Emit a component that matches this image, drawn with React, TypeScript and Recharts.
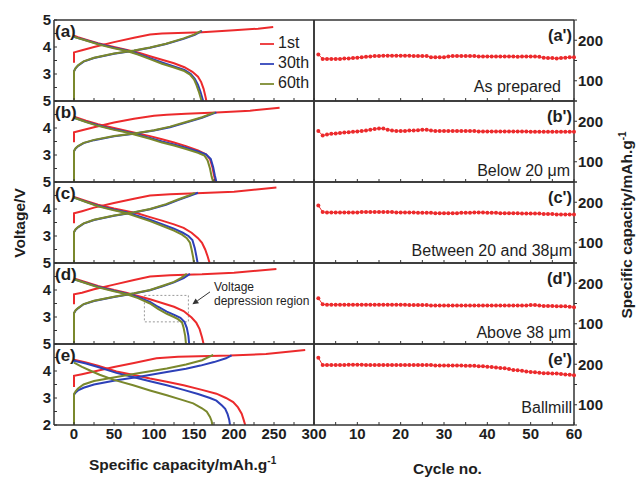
import React from 'react';
import { LineChart, Line, XAxis, YAxis, Legend, ReferenceArea, ReferenceLine } from 'recharts';

const FONT = '"Liberation Sans", Arial, Helvetica, sans-serif';
const RED = '#ec2a2c';
const BLUE = '#2d40b8';
const OLIVE = '#7a882c';
const INK = '#333333';
const TEXT = '#1e1e1e';

type Pt = [number, number];

// ---------- tick labels / categories ----------
const CAP_TICKS = [0, 25, 50, 75, 100, 125, 150, 175, 200, 225, 250, 275, 300];
const CAP_LABELS = [0, 50, 100, 150, 200, 250, 300];
const VOLT_TICKS = [2, 2.5, 3, 3.5, 4, 4.5, 5];
const CYCLE_TICKS = [0, 5, 10, 15, 20, 25, 30, 35, 40, 45, 50, 55, 60];
const CYCLE_LABELS = [10, 20, 30, 40, 50, 60];
const CAPR_TICKS = [50, 100, 150, 200, 250];
const CAPR_LABELS = [100, 200];
const SERIES_NAMES = ['1st', '30th', '60th'];
const LEFT_TAGS = ['(a)', '(b)', '(c)', '(d)', '(e)'];
const RIGHT_TAGS = ["(a')", "(b')", "(c')", "(d')", "(e')"];
const SAMPLE_NAMES = ['As prepared', 'Below 20 \u03bcm', 'Between 20 and 38\u03bcm', 'Above 38 \u03bcm', 'Ballmill'];
const CYCLES = Array.from({ length: 60 }, (_, i) => i + 1);

// ---------- panel (a) ----------
const A_RED_CHG: Pt[] = [[0,3.42],[0,3.8],[10,3.88],[25,4.0],[50,4.18],[75,4.34],[95,4.46],[110,4.5],[130,4.52],[160,4.55],[200,4.62],[230,4.68],[249,4.74]];
const A_BLUE_CHG: Pt[] = [[0,2.0],[0,3.1],[2,3.21],[5,3.31],[12,3.46],[25,3.59],[50,3.75],[75,3.86],[95,3.97],[115,4.11],[137,4.3],[151,4.45],[160,4.6]];
const A_OLIVE_CHG: Pt[] = [[0,2.0],[0,3.1],[2,3.22],[5,3.32],[12,3.47],[25,3.6],[50,3.76],[75,3.87],[95,3.98],[115,4.12],[137,4.32],[150,4.46],[159,4.6]];
const A_RED_DIS: Pt[] = [[0,4.42],[5,4.36],[15,4.27],[30,4.14],[50,4.0],[65,3.9],[80,3.8],[95,3.66],[110,3.53],[125,3.4],[138,3.25],[148,3.08],[155,2.9],[159,2.7],[162,2.45],[164,2.2],[165.5,2.0]];
const A_BLUE_DIS: Pt[] = [[0,4.38],[5,4.33],[15,4.25],[30,4.12],[50,3.97],[65,3.88],[80,3.75],[95,3.59],[110,3.43],[125,3.28],[138,3.15],[146,3.0],[151,2.82],[155,2.6],[158,2.35],[160,2.15],[161.5,2.0]];
const A_OLIVE_DIS: Pt[] = [[0,4.38],[5,4.33],[15,4.24],[30,4.1],[50,3.95],[65,3.86],[80,3.72],[95,3.55],[110,3.38],[125,3.24],[137,3.12],[145,2.98],[150,2.8],[153,2.6],[156,2.35],[158,2.15],[159.5,2.0]];

// ---------- panel (b) ----------
const B_RED_CHG: Pt[] = [[0,3.47],[0,3.84],[10,3.92],[25,4.03],[50,4.2],[75,4.34],[100,4.45],[116,4.49],[140,4.53],[178,4.57],[220,4.64],[257,4.75]];
const B_BLUE_CHG: Pt[] = [[0,2.0],[0,3.14],[2,3.24],[5,3.32],[12,3.44],[25,3.55],[50,3.69],[75,3.79],[100,3.91],[120,4.03],[140,4.2],[160,4.38],[178,4.58]];
const B_OLIVE_CHG: Pt[] = [[0,2.0],[0,3.15],[2,3.25],[5,3.33],[12,3.45],[25,3.56],[50,3.7],[75,3.8],[100,3.92],[120,4.05],[140,4.22],[160,4.4],[176,4.58]];
const B_RED_DIS: Pt[] = [[0,4.42],[15,4.27],[30,4.14],[50,4.0],[65,3.9],[80,3.8],[95,3.7],[110,3.58],[125,3.46],[140,3.33],[155,3.17],[165,3.03],[170,2.85],[173,2.55],[175,2.25],[177,2.0]];
const B_BLUE_DIS: Pt[] = [[0,4.38],[15,4.23],[30,4.1],[50,3.95],[65,3.86],[80,3.75],[95,3.63],[110,3.5],[125,3.39],[140,3.27],[155,3.13],[165,3.02],[171,2.85],[174,2.55],[176,2.25],[178,2.0]];
const B_OLIVE_DIS: Pt[] = [[0,4.38],[15,4.22],[30,4.08],[50,3.93],[65,3.84],[80,3.72],[95,3.6],[110,3.46],[125,3.35],[140,3.22],[155,3.08],[163,2.98],[167,2.8],[170,2.5],[172,2.2],[174,2.0]];

// ---------- panel (c) ----------
const C_RED_CHG: Pt[] = [[0,3.47],[0,3.84],[10,3.92],[25,4.05],[50,4.22],[75,4.38],[95,4.5],[120,4.55],[153,4.58],[200,4.64],[253,4.8]];
const C_BLUE_CHG: Pt[] = [[0,2.0],[0,3.14],[2,3.24],[5,3.32],[12,3.46],[25,3.59],[50,3.75],[75,3.87],[95,3.99],[115,4.16],[130,4.33],[145,4.49],[155,4.6]];
const C_OLIVE_CHG: Pt[] = [[0,2.0],[0,3.15],[2,3.25],[5,3.33],[12,3.47],[25,3.6],[50,3.76],[75,3.88],[95,4.0],[115,4.18],[130,4.35],[142,4.48],[151,4.6]];
const C_RED_DIS: Pt[] = [[0,4.45],[15,4.3],[30,4.16],[50,4.02],[65,3.93],[80,3.83],[95,3.7],[110,3.57],[125,3.43],[137,3.3],[147,3.12],[155,2.92],[160,2.75],[164,2.5],[167,2.25],[169.5,2.0]];
const C_BLUE_DIS: Pt[] = [[0,4.42],[15,4.27],[30,4.12],[50,3.97],[65,3.88],[80,3.74],[95,3.6],[110,3.44],[125,3.27],[136,3.12],[143,3.0],[148,2.85],[151,2.55],[153,2.25],[154.5,2.0]];
const C_OLIVE_DIS: Pt[] = [[0,4.42],[15,4.26],[30,4.1],[50,3.95],[65,3.85],[80,3.7],[95,3.55],[110,3.38],[125,3.2],[135,3.05],[141,2.92],[145,2.75],[147,2.5],[149,2.2],[150,2.0]];

// ---------- panel (d) ----------
const D_RED_CHG: Pt[] = [[0,3.47],[0,3.84],[10,3.9],[25,4.03],[50,4.2],[75,4.37],[95,4.5],[120,4.55],[160,4.58],[200,4.64],[253,4.78]];
const D_BLUE_CHG: Pt[] = [[0,2.0],[0,3.14],[2,3.24],[5,3.32],[12,3.47],[25,3.59],[50,3.74],[75,3.87],[95,3.99],[110,4.13],[125,4.28],[137,4.44],[145,4.6]];
const D_OLIVE_CHG: Pt[] = [[0,2.0],[0,3.15],[2,3.25],[5,3.33],[12,3.48],[25,3.6],[50,3.75],[75,3.88],[95,4.0],[110,4.15],[125,4.3],[134,4.45],[141,4.6]];
const D_RED_DIS: Pt[] = [[0,4.43],[15,4.29],[30,4.15],[50,4.0],[65,3.9],[80,3.78],[95,3.66],[110,3.52],[125,3.38],[137,3.22],[147,2.98],[153,2.78],[157,2.55],[160,2.25],[162,2.0]];
const D_BLUE_DIS: Pt[] = [[0,4.4],[15,4.26],[30,4.12],[50,3.97],[65,3.87],[80,3.73],[95,3.56],[105,3.38],[116,3.2],[126,3.07],[133,2.97],[138,2.82],[141,2.6],[143,2.3],[144,2.0]];
const D_OLIVE_DIS: Pt[] = [[0,4.4],[15,4.25],[30,4.1],[50,3.95],[65,3.85],[80,3.7],[95,3.5],[105,3.3],[116,3.12],[125,3.0],[130,2.92],[135,2.8],[137,2.6],[139,2.3],[140,2.0]];
const D_BOX = { x1: 88, x2: 143, y1: 2.82, y2: 3.8 };
const D_ARROW = [{ x: 170, y: 3.93 }, { x: 148, y: 3.47 }];

// ---------- panel (e) ----------
const E_RED_CHG: Pt[] = [[0,3.41],[0,3.82],[10,3.88],[25,3.98],[50,4.15],[75,4.3],[103,4.47],[130,4.53],[195,4.57],[240,4.63],[289,4.78]];
const E_BLUE_CHG: Pt[] = [[0,2.0],[0,3.12],[2,3.2],[5,3.28],[12,3.38],[25,3.5],[53,3.66],[80,3.78],[116,3.96],[140,4.08],[158,4.2],[175,4.33],[190,4.47],[197,4.58]];
const E_OLIVE_CHG: Pt[] = [[0,2.0],[0,3.15],[2,3.25],[5,3.35],[12,3.5],[25,3.63],[53,3.78],[80,3.92],[116,4.09],[140,4.24],[160,4.4],[174,4.6]];
const E_RED_DIS: Pt[] = [[0,4.42],[15,4.32],[30,4.2],[53,3.98],[75,3.85],[95,3.72],[116,3.6],[137,3.47],[160,3.3],[178,3.16],[190,3.0],[199,2.85],[205,2.65],[209.6,2.42],[212,2.2],[214,2.0]];
const E_BLUE_DIS: Pt[] = [[0,4.38],[15,4.28],[30,4.15],[53,3.93],[75,3.77],[95,3.62],[116,3.47],[137,3.3],[155,3.15],[170,3.0],[178,2.9],[185,2.72],[189,2.6],[192,2.4],[194,2.2],[195,2.0]];
const E_OLIVE_DIS: Pt[] = [[0,4.31],[10,4.15],[20,4.02],[32,3.86],[50,3.67],[74,3.47],[95,3.28],[116,3.1],[135,2.93],[149,2.8],[160,2.62],[166,2.49],[170,2.3],[172,2.15],[173,2.0]];

// ---------- cycling (a')..(e') : discharge capacity per cycle ----------
const A_CYC = [165,154,154,154,154,154,155,155,156,157,158,159,160,161,161,162,162,162,162,162,162,162,161,161,161,161,158,158,158,158,160,161,161,161,161,161,161,160,160,160,160,160,160,160,160,160,159,160,160,160,160,159,157,156,156,155,156,157,158,158];
const B_CYC = [176,165,167,169,170,171,172,173,174,175,176,177,179,181,182,182,179,177,176,176,176,177,177,178,179,179,177,176,176,176,176,176,176,176,176,176,176,175,175,175,175,175,175,175,175,175,175,175,175,174,174,174,174,174,174,174,174,174,174,174];
const C_CYC = [192,176,175,175,175,175,175,175,175,175,176,176,176,176,176,176,176,176,175,175,175,175,175,174,174,174,174,173,173,173,173,173,173,174,174,174,175,175,175,174,174,174,173,173,173,173,173,172,172,172,172,172,171,171,171,170,170,170,170,170];
const D_CYC = [163,148,147,147,147,147,147,147,147,147,147,147,147,147,147,147,147,147,147,147,147,146,146,146,146,146,145,145,145,145,145,145,145,145,145,145,145,145,145,145,145,145,145,145,145,145,145,145,145,146,146,145,144,144,144,143,143,143,142,141];
const E_CYC = [216,198,198,198,198,198,198,199,199,199,199,198,198,198,198,198,198,198,198,198,198,198,198,198,198,198,198,197,197,197,197,197,197,197,196,196,196,195,195,194,193,192,191,190,188,186,185,184,182,181,180,179,178,178,177,177,176,175,174,173];

type Curve = { color: string; name?: string; data: Pt[] };
const mk = (red: Pt[], redD: Pt[], blue: Pt[], blueD: Pt[], ol: Pt[], olD: Pt[]): Curve[] => [
  { color: RED, name: SERIES_NAMES[0], data: red },
  { color: RED, data: redD },
  { color: BLUE, name: SERIES_NAMES[1], data: blue },
  { color: BLUE, data: blueD },
  { color: OLIVE, name: SERIES_NAMES[2], data: ol },
  { color: OLIVE, data: olD },
];
const LEFT_CURVES: Curve[][] = [
  mk(A_RED_CHG, A_RED_DIS, A_BLUE_CHG, A_BLUE_DIS, A_OLIVE_CHG, A_OLIVE_DIS),
  mk(B_RED_CHG, B_RED_DIS, B_BLUE_CHG, B_BLUE_DIS, B_OLIVE_CHG, B_OLIVE_DIS),
  mk(C_RED_CHG, C_RED_DIS, C_BLUE_CHG, C_BLUE_DIS, C_OLIVE_CHG, C_OLIVE_DIS),
  mk(D_RED_CHG, D_RED_DIS, D_BLUE_CHG, D_BLUE_DIS, D_OLIVE_CHG, D_OLIVE_DIS),
  mk(E_RED_CHG, E_RED_DIS, E_BLUE_CHG, E_BLUE_DIS, E_OLIVE_CHG, E_OLIVE_DIS),
];
const RIGHT_SERIES = [A_CYC, B_CYC, C_CYC, D_CYC, E_CYC];

// ---------- layout ----------
const ROW_TOP = 20;
const ROW_H = 81;
const TICK = { fontSize: 15, fontWeight: 700, fill: TEXT, fontFamily: FONT };
const FRAME = { stroke: INK, strokeWidth: 1.5 };

const ArrowShape = (p: any) => {
  const { x1, y1, x2, y2 } = p;
  if ([x1, y1, x2, y2].some((v) => typeof v !== 'number' || isNaN(v))) return <g />;
  const ang = Math.atan2(y2 - y1, x2 - x1);
  const L = 6, W = 3;
  const bx = x2 - L * Math.cos(ang);
  const by = y2 - L * Math.sin(ang);
  const pts = `${x2},${y2} ${bx + W * Math.sin(ang)},${by - W * Math.cos(ang)} ${bx - W * Math.sin(ang)},${by + W * Math.cos(ang)}`;
  return (
    <g>
      <line x1={x1} y1={y1} x2={bx} y2={by} stroke="#333" strokeWidth={1} />
      <polygon points={pts} fill="#333" />
    </g>
  );
};

function LeftPanel({ row }: { row: number }) {
  const last = row === 4;
  const xh = last ? 30 : 1;
  const H = 10 + ROW_H + xh + 1;
  const curves = LEFT_CURVES[row];
  return (
    <div style={{ position: 'absolute', left: 0, top: ROW_TOP + row * ROW_H - 10 }}>
      <LineChart width={336} height={H} margin={{ top: 9, right: 21, bottom: 1, left: 0 }}>
        <XAxis
          type="number"
          dataKey="c"
          domain={[-25, 300]}
          ticks={CAP_TICKS}
          interval={0}
          allowDataOverflow
          height={xh}
          tickSize={-3}
          tickMargin={6}
          axisLine={FRAME}
          tickLine={{ stroke: INK }}
          tick={TICK}
          tickFormatter={(v: number) => (last && CAP_LABELS.includes(v) ? String(v) : '')}
        />
        <XAxis xAxisId="top" orientation="top" type="number" domain={[-25, 300]} ticks={[0]} height={1} tick={false} tickLine={false} axisLine={FRAME} />
        <YAxis
          type="number"
          domain={[2, 5]}
          ticks={VOLT_TICKS}
          interval={0}
          allowDataOverflow
          width={54}
          tickSize={-3}
          tickMargin={6}
          axisLine={FRAME}
          tickLine={{ stroke: INK }}
          tick={TICK}
          tickFormatter={(v: number) => (Number.isInteger(v) && (v > 2 || last) ? String(v) : '')}
        />
        <YAxis yAxisId="right" orientation="right" type="number" domain={[2, 5]} ticks={[3]} width={1} tick={false} tickLine={false} axisLine={FRAME} />
        {row === 3 && (
          <ReferenceArea x1={D_BOX.x1} x2={D_BOX.x2} y1={D_BOX.y1} y2={D_BOX.y2} fill="none" fillOpacity={0} stroke="#9a9a9a" strokeWidth={1} strokeDasharray="2 2" />
        )}
        {row === 3 && <ReferenceLine segment={D_ARROW} shape={ArrowShape} stroke="#333" />}
        {curves.map((cv, i) => (
          <Line
            key={i}
            data={cv.data.map(([c, v]) => ({ c, v }))}
            dataKey="v"
            name={cv.name}
            type="linear"
            stroke={cv.color}
            strokeWidth={2}
            dot={false}
            activeDot={false}
            legendType={cv.name ? 'plainline' : 'none'}
            isAnimationActive={false}
          />
        ))}
        {row === 0 && (
          <Legend
            layout="vertical"
            align="center"
            verticalAlign="middle"
            iconType="plainline"
            iconSize={14}
            wrapperStyle={{ left: 260, top: 23, width: 60, fontSize: 16, lineHeight: '20px', fontFamily: FONT }}
            formatter={(v: any) => <span style={{ color: TEXT }}>{v}</span>}
          />
        )}
      </LineChart>
    </div>
  );
}

function RightPanel({ row }: { row: number }) {
  const last = row === 4;
  const xh = last ? 30 : 1;
  const H = 10 + ROW_H + xh + 1;
  const data = CYCLES.map((c, i) => ({ cycle: c, cap: RIGHT_SERIES[row][i] }));
  return (
    <div style={{ position: 'absolute', left: 300, top: ROW_TOP + row * ROW_H - 10 }}>
      <LineChart width={335} height={H} data={data} margin={{ top: 9, right: 0, bottom: 1, left: 13 }}>
        <XAxis
          type="number"
          dataKey="cycle"
          domain={[0, 60]}
          ticks={CYCLE_TICKS}
          interval={0}
          height={xh}
          tickSize={-3}
          tickMargin={6}
          axisLine={FRAME}
          tickLine={{ stroke: INK }}
          tick={TICK}
          tickFormatter={(v: number) => (last && CYCLE_LABELS.includes(v) ? String(v) : '')}
        />
        <XAxis xAxisId="top" orientation="top" type="number" domain={[0, 60]} ticks={[0]} height={1} tick={false} tickLine={false} axisLine={FRAME} />
        <YAxis yAxisId="inner" orientation="left" type="number" domain={[50, 250]} ticks={CAPR_LABELS} interval={0} width={1} tick={false} tickSize={-3} tickLine={{ stroke: INK }} axisLine={FRAME} />
        <YAxis
          orientation="right"
          type="number"
          domain={[50, 250]}
          ticks={CAPR_TICKS}
          interval={0}
          width={61}
          tickSize={3}
          tickMargin={1}
          axisLine={FRAME}
          tickLine={{ stroke: INK }}
          tick={TICK}
          tickFormatter={(v: number) => (CAPR_LABELS.includes(v) ? String(v) : '')}
        />
        <Line
          dataKey="cap"
          type="linear"
          stroke={RED}
          strokeWidth={1}
          dot={{ r: 2, fill: RED, stroke: RED, strokeWidth: 0 }}
          activeDot={false}
          isAnimationActive={false}
        />
      </LineChart>
    </div>
  );
}

const SAMPLE_RIGHT = [561, 570, 572, 571, 572];
const SAMPLE_CAPTOP = [60.7, 64, 63, 63.7, 57.7];

export default function App() {
  const rows = [0, 1, 2, 3, 4];
  return (
    <div style={{ position: 'absolute', left: 0, top: 0, width: 636, height: 477, background: '#fff', fontFamily: FONT, color: TEXT, overflow: 'hidden' }}>
      {rows.map((r) => <RightPanel key={'r' + r} row={r} />)}
      {rows.map((r) => <LeftPanel key={'l' + r} row={r} />)}

      {rows.map((r) => (
        <div key={'lt' + r} style={{ position: 'absolute', left: 55, top: ROW_TOP + r * ROW_H + 3, fontSize: 17, fontWeight: 700, lineHeight: '18px' }}>
          {LEFT_TAGS[r]}
        </div>
      ))}
      {rows.map((r) => (
        <div key={'rt' + r} style={{ position: 'absolute', left: 452, width: 120, textAlign: 'right', top: ROW_TOP + r * ROW_H + 6, fontSize: 16.5, fontWeight: 700, lineHeight: '18px' }}>
          {RIGHT_TAGS[r]}
        </div>
      ))}
      {rows.map((r) => (
        <div key={'sn' + r} style={{ position: 'absolute', left: SAMPLE_RIGHT[r] - 200, width: 200, textAlign: 'right', top: ROW_TOP + r * ROW_H + SAMPLE_CAPTOP[r] - 2, fontSize: 16, lineHeight: '16px', whiteSpace: 'nowrap' }}>
          {SAMPLE_NAMES[r]}
        </div>
      ))}

      <div style={{ position: 'absolute', left: 214, top: 280, fontSize: 12, lineHeight: '14px', whiteSpace: 'nowrap' }}>
        Voltage<br />depression region
      </div>

      <div style={{ position: 'absolute', left: 20 - 60, top: 223 - 9, width: 120, height: 18, lineHeight: '18px', textAlign: 'center', transform: 'rotate(-90deg)', fontSize: 15.5, fontWeight: 700, whiteSpace: 'nowrap' }}>
        Voltage/V
      </div>
      <div style={{ position: 'absolute', left: 627 - 130, top: 225 - 10, width: 260, height: 20, lineHeight: '20px', textAlign: 'center', transform: 'rotate(-90deg)', fontSize: 15.5, fontWeight: 700, whiteSpace: 'nowrap' }}>
        Specific capacity/mAh.g<sup style={{ fontSize: 10, verticalAlign: 'top', position: 'relative', top: -4 }}>-1</sup>
      </div>
      <div style={{ position: 'absolute', left: 89, top: 456, fontSize: 15.5, fontWeight: 700, lineHeight: '18px', whiteSpace: 'nowrap' }}>
        Specific capacity/mAh.g<sup style={{ fontSize: 10, verticalAlign: 'top', position: 'relative', top: -4 }}>-1</sup>
      </div>
      <div style={{ position: 'absolute', left: 413, top: 460, fontSize: 15.5, fontWeight: 700, lineHeight: '18px', whiteSpace: 'nowrap' }}>
        Cycle no.
      </div>
    </div>
  );
}
